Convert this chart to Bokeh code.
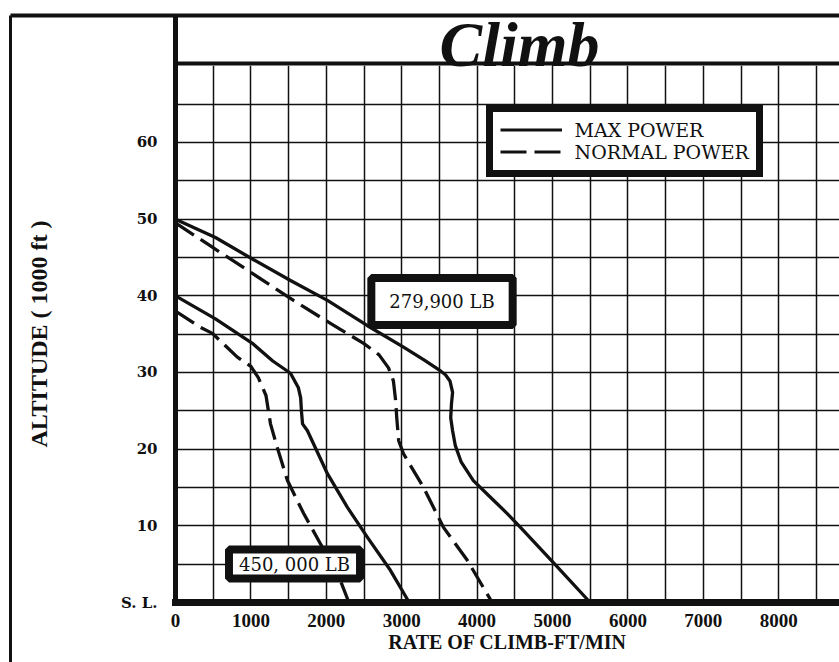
import numpy as np
from bokeh.plotting import figure
from bokeh.models import (Range1d, FixedTicker, LinearAxis, Label, Legend,
                          LegendItem, BoxAnnotation)
from bokeh.embed import file_html
from bokeh.resources import INLINE

# ---------------- data ----------------
rate_279900_max = [0, 530, 1020, 1525, 2015, 2546, 3024, 3300, 3515, 3580, 3640, 3675,
                   3660, 3650, 3675, 3710, 3790, 3950, 4180, 4400, 4575, 5030, 5500]
alt_279900_max = [50.0, 47.6, 44.8, 42.0, 39.4, 36.1, 33.3, 31.6, 30.2, 29.7, 28.9, 27.4,
                  25.9, 24.1, 22.4, 20.5, 18.3, 15.9, 13.7, 11.6, 9.8, 5.0, 0.0]

rate_279900_normal = [0, 464, 900, 1565, 2055, 2495, 2700, 2825, 2890, 2920, 2935, 2960,
                      3024, 3290, 3554, 3870, 4200]
alt_279900_normal = [49.5, 46.5, 43.7, 39.4, 36.4, 33.8, 32.3, 30.6, 28.9, 26.3, 24.0, 21.1,
                     19.4, 15.0, 9.8, 5.5, 0.0]

rate_450000_max = [0, 530, 1020, 1290, 1525, 1630, 1660, 1670, 1685, 1750, 2015, 2280,
                   2546, 2850, 3100]
alt_450000_max = [40.0, 37.0, 33.8, 31.5, 29.9, 28.0, 26.7, 25.0, 23.3, 22.4, 16.8, 12.4,
                  8.5, 4.2, 0.0]

rate_450000_normal = [0, 330, 490, 820, 1000, 1100, 1200, 1260, 1350, 1485, 1700, 1920,
                      2150, 2300]
alt_450000_normal = [38.0, 35.9, 35.1, 32.0, 30.8, 29.3, 27.0, 23.3, 20.2, 15.9, 11.6, 7.7,
                     3.8, 0.0]

x_tick_values = [0, 1000, 2000, 3000, 4000, 5000, 6000, 7000, 8000]
y_tick_values = [0, 10, 20, 30, 40, 50, 60]
y_tick_overrides = {0: "S. L."}
x_grid_values = list(range(500, 9000, 500))
y_grid_values = list(range(5, 70, 5))
grid_top = 70

series_labels = ["MAX POWER", "NORMAL POWER"]
weight_labels = ["279,900 LB", "450, 000 LB"]
title_text = "Climb"
x_title = "RATE OF CLIMB-FT/MIN"
y_title = "ALTITUDE ( 1000 ft )"

# ---------------- geometry ----------------
W, H = 839, 662
FRAME_LEFT, FRAME_TOP = 10, 15          # page rules = frame edges
AXIS_PX_X, AXIS_PX_Y = 175, 602         # where rate 0 / sea level sit
PX_X = 0.0754                           # px per ft/min
PX_Y = 7.667                            # px per 1000 ft

x_start = -(AXIS_PX_X - FRAME_LEFT) / PX_X
x_end = (W - AXIS_PX_X) / PX_X
y_start = -(H - AXIS_PX_Y) / PX_Y
y_end = (AXIS_PX_Y - FRAME_TOP) / PX_Y


def dx(px):
    return (px - AXIS_PX_X) / PX_X


def dy(py):
    return (AXIS_PX_Y - py) / PX_Y


INK = "#111111"

p = figure(width=W, height=H, x_range=Range1d(x_start, x_end),
           y_range=Range1d(y_start, y_end), output_backend="svg",
           toolbar_location=None, min_border_left=FRAME_LEFT, min_border_right=0,
           min_border_top=FRAME_TOP, min_border_bottom=0,
           background_fill_color="white", border_fill_color="white",
           outline_line_color=None)

# page rules (axes on the frame edges, no ticks / labels)
p.yaxis.ticker = FixedTicker(ticks=[])
p.yaxis.axis_line_width = 3
p.yaxis.axis_line_color = INK
p.yaxis.major_tick_line_color = None
p.yaxis.minor_tick_line_color = None
p.yaxis.major_label_text_font_size = "0px"
p.xaxis.visible = False

top_rule = LinearAxis(ticker=FixedTicker(ticks=[]), axis_line_width=4,
                      axis_line_color=INK, major_tick_line_color=None,
                      minor_tick_line_color=None, major_label_text_font_size="0px")
p.add_layout(top_rule, "above")

# chart axes, fixed at rate 0 / sea level
x_axis = LinearAxis(fixed_location=0, bounds=(0, x_end),
                    ticker=FixedTicker(ticks=x_tick_values),
                    axis_line_width=7, axis_line_color=INK, axis_line_cap="square",
                    major_tick_line_color=None, minor_tick_line_color=None,
                    major_label_standoff=5, major_label_text_font="Liberation Serif",
                    major_label_text_font_style="bold",
                    major_label_text_font_size="19px", major_label_text_color=INK,
                    axis_label=x_title, axis_label_standoff=1,
                    axis_label_text_font="Liberation Serif",
                    axis_label_text_font_style="bold",
                    axis_label_text_font_size="20px", axis_label_text_color=INK)
p.add_layout(x_axis, "below")

y_axis = LinearAxis(fixed_location=0, bounds=(0, grid_top),
                    ticker=FixedTicker(ticks=y_tick_values),
                    major_label_overrides=y_tick_overrides,
                    axis_line_width=5, axis_line_color=INK, axis_line_cap="square",
                    major_tick_line_color=None, minor_tick_line_color=None,
                    major_label_standoff=12, major_label_text_font="DejaVu Serif",
                    major_label_text_font_style="bold",
                    major_label_text_font_size="15px", major_label_text_color=INK,
                    axis_label=y_title, axis_label_standoff=66,
                    axis_label_text_font="Liberation Serif",
                    axis_label_text_font_style="bold",
                    axis_label_text_font_size="24px", axis_label_text_color=INK)
p.add_layout(y_axis, "left")

# grid
p.xgrid.ticker = FixedTicker(ticks=x_grid_values)
p.ygrid.ticker = FixedTicker(ticks=y_grid_values)
for g in (p.xgrid, p.ygrid):
    g.grid_line_color = INK
    g.grid_line_width = 1.5
    g.grid_line_alpha = 1.0


def box(color, **kw):
    p.add_layout(BoxAnnotation(fill_color=color, fill_alpha=1.0, line_color=None,
                               line_alpha=0, level="underlay", **kw))


# keep the grid inside the chart area
box("white", right=0)
box("white", top=0)
box("white", bottom=grid_top)
# heavy top line of the grid and the axis line running up to the page rule
box(INK, left=0, bottom=dy(65), top=dy(61))
box(INK, left=dx(172.5), right=dx(177.5), bottom=grid_top)

# curves
LW = 3.3
DASH = "22 8"
p.line(rate_279900_max, alt_279900_max, line_width=LW, line_color=INK, line_join="round")
p.line(rate_279900_normal, alt_279900_normal, line_width=LW, line_color=INK,
       line_dash=DASH, line_join="round")
p.line(rate_450000_max, alt_450000_max, line_width=LW, line_color=INK, line_join="round")
p.line(rate_450000_normal, alt_450000_normal, line_width=LW, line_color=INK,
       line_dash=DASH, line_join="round")

# legend samples (no visible data)
leg_solid = p.line([np.nan], [np.nan], line_width=3, line_color=INK)
leg_dash = p.line([np.nan], [np.nan], line_width=3, line_color=INK, line_dash="26 8")
legend = Legend(items=[LegendItem(label=series_labels[0], renderers=[leg_solid]),
                       LegendItem(label=series_labels[1], renderers=[leg_dash])],
                location=(475.5, 485.5), orientation="vertical",
                label_text_font="DejaVu Serif", label_text_font_size="19px",
                label_text_color=INK, glyph_width=62, glyph_height=19,
                label_height=19, label_standoff=13, spacing=0, padding=7, margin=0,
                border_line_color=INK, border_line_width=7, border_line_alpha=1.0,
                background_fill_color="white", background_fill_alpha=1.0)
p.add_layout(legend)

# weight boxes
p.add_layout(Label(x=dx(441.5), y=dy(301), text=weight_labels[0], text_align="center",
                   text_baseline="middle", text_font="DejaVu Serif",
                   text_font_size="18px", text_color=INK,
                   background_fill_color="white", background_fill_alpha=1.0,
                   border_line_color=INK, border_line_width=8,
                   padding=dict(x=18, y=13)))
p.add_layout(Label(x=dx(294), y=dy(563.5), text=weight_labels[1], text_align="center",
                   text_baseline="middle", text_font="DejaVu Serif",
                   text_font_size="18px", text_color=INK,
                   background_fill_color="white", background_fill_alpha=1.0,
                   border_line_color=INK, border_line_width=8,
                   padding=dict(x=10, y=4)))

# script title
p.add_layout(Label(x=dx(519), y=dy(44), text=title_text, text_align="center",
                   text_baseline="alphabetic", text_font="Liberation Serif",
                   text_font_style="bold italic", text_font_size="64px",
                   text_color=INK))

open("out.html", "w").write(file_html(p, INLINE))
